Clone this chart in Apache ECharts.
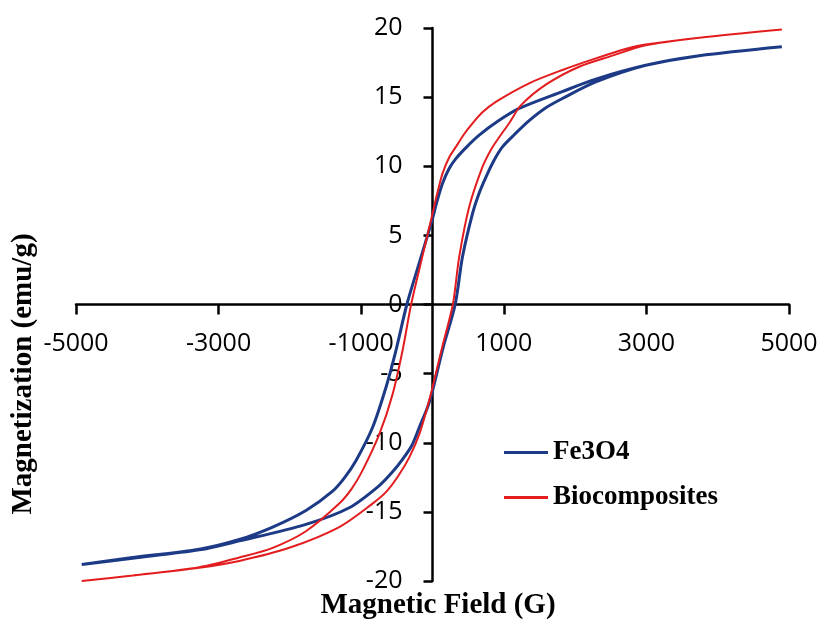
<!DOCTYPE html>
<html>
<head>
<meta charset="utf-8">
<script src="https://cdn.jsdelivr.net/npm/echarts@6/dist/echarts.min.js"></script>
<style>
  html, body { margin: 0; padding: 0; background: #ffffff; }
  #chart { width: 824px; height: 621px; }
</style>
</head>
<body>
<div id="chart"></div>
<script>
// Fe3O4 descending (upper) branch
const fe3o4DownH = [4900, 3740, 2990, 2290, 1820, 1215, 900, 655, 470, 328, 230, 140, 60, 0, -180, -360, -513, -653, -841, -1074, -1230, -1401, -1775, -2242, -2709, -3270, -4205, -4920];
const fe3o4DownM = [18.65, 18.0, 17.3, 16.3, 15.4, 14.18, 13.2, 12.25, 11.35, 10.55, 9.8, 8.75, 7.4, 6.2, 3.1, 0, -3.33, -6.0, -8.9, -11.3, -12.5, -13.5, -14.9, -16.1, -17.0, -17.7, -18.3, -18.8];
// Fe3O4 ascending (lower) branch
const fe3o4UpH = [-4920, -4205, -3270, -2709, -1775, -1168, -747, -560, -420, -290, -186, -60, 0, 150, 318, 420, 561, 650, 748, 860, 981, 1150, 1355, 1580, 1822, 2290, 2990, 3740, 4900];
const fe3o4UpM = [-18.8, -18.35, -17.75, -17.1, -15.9, -14.7, -13.1, -12.1, -11.2, -10.2, -8.9, -7.3, -6.25, -3.1, 0, 3.43, 6.57, 8.0, 9.2, 10.4, 11.4, 12.3, 13.3, 14.2, 14.9, 16.1, 17.3, 18.0, 18.65];
// Biocomposites descending (upper) branch
const bioDownH = [4900, 3740, 2990, 2757, 2290, 1822, 1355, 888, 700, 561, 440, 328, 230, 140, 60, 0, -150, -300, -420, -560, -747, -981, -1130, -1308, -1775, -2242, -2709, -3270, -4205, -4920];
const bioDownM = [19.9, 19.3, 18.8, 18.55, 17.8, 16.96, 16.0, 14.66, 13.9, 13.1, 12.3, 11.4, 10.6, 9.47, 7.9, 6.57, 3.3, 0, -3.33, -6.5, -9.4, -12.0, -13.3, -14.4, -16.4, -17.6, -18.3, -19.0, -19.6, -20.0];
// Biocomposites ascending (lower) branch
const bioUpH = [-4920, -4205, -3270, -2709, -2009, -1308, -841, -640, -467, -320, -186, -60, 0, 140, 285, 374, 514, 701, 820, 935, 1080, 1239, 1589, 2056, 2523, 2990, 3740, 4900];
const bioUpM = [-20.0, -19.6, -19.05, -18.55, -17.6, -16.1, -14.4, -13.5, -12.3, -11.0, -9.4, -7.2, -6.0, -3.0, 0, 3.43, 7.05, 9.95, 11.2, 12.1, 13.15, 14.4, 15.9, 17.2, 18.0, 18.75, 19.3, 19.9];

const seriesNames = ['Fe3O4', 'Biocomposites'];
const xTitle = 'Magnetic Field (G)';
const yTitle = 'Magnetization (emu/g)';

function loop(downH, downM, upH, upM) {
  const pts = [];
  for (let i = 0; i < downH.length; i++) pts.push([downH[i], downM[i]]);
  for (let i = 0; i < upH.length; i++) pts.push([upH[i], upM[i]]);
  return pts;
}

const W = 824, H = 621;
const G = { left: 76, right: 35, top: 28, bottom: 40 };
const gridW = W - G.left - G.right;
const gridH = H - G.top - G.bottom;

const chart = echarts.init(document.getElementById('chart'), null, { renderer: 'canvas' });
const labelFont = { fontFamily: 'Open Sans', fontSize: 25, color: '#000' };
const serif = 'Liberation Serif, Times New Roman, serif';
const BLUE = '#1c3a86', RED = '#e31d1f';

chart.setOption({
  animation: false,
  backgroundColor: '#ffffff',
  grid: Object.assign({ containLabel: false, outerBoundsMode: 'none' }, G),
  xAxis: {
    type: 'value', min: -5000, max: 5000, interval: 2000,
    position: 'bottom', offset: -gridH / 2,
    axisLine: { show: true, onZero: false, lineStyle: { color: '#000', width: 2.5 } },
    axisTick: { show: true, inside: false, length: 10, lineStyle: { color: '#000', width: 2.5 } },
    axisLabel: Object.assign({ margin: 27, formatter: v => String(v) }, labelFont),
    splitLine: { show: false }
  },
  yAxis: {
    type: 'value', min: -20, max: 20, interval: 5,
    position: 'left', offset: -gridW / 2,
    axisLine: { show: true, onZero: false, lineStyle: { color: '#000', width: 2.5 } },
    axisTick: { show: true, inside: false, length: 9, lineStyle: { color: '#000', width: 2.5 } },
    axisLabel: Object.assign({ margin: 30, formatter: v => String(v) }, labelFont),
    splitLine: { show: false }
  },
  legend: {
    orient: 'vertical', left: 499, top: 432,
    itemWidth: 44, itemHeight: 3, itemGap: 14,
    textStyle: { fontFamily: serif, fontWeight: 'bold', fontSize: 27, color: '#000', lineHeight: 31 },
    data: [
      { name: seriesNames[0], icon: 'rect', itemStyle: { color: BLUE } },
      { name: seriesNames[1], icon: 'rect', itemStyle: { color: RED } }
    ]
  },
  graphic: [
    {
      type: 'text', x: 24, y: 374, rotation: Math.PI / 2,
      style: { text: yTitle, fontFamily: serif, fontWeight: 'bold', fontSize: 29, fill: '#000', align: 'center', verticalAlign: 'middle' }
    },
    {
      type: 'text', x: 438, y: 606,
      style: { text: xTitle, fontFamily: serif, fontWeight: 'bold', fontSize: 29, fill: '#000', align: 'center', verticalAlign: 'middle' }
    }
  ],
  series: [
    {
      name: seriesNames[0], type: 'line', showSymbol: false, symbol: 'none', smooth: 0.3,
      lineStyle: { color: BLUE, width: 3 }, itemStyle: { color: BLUE },
      data: loop(fe3o4DownH, fe3o4DownM, fe3o4UpH, fe3o4UpM)
    },
    {
      name: seriesNames[1], type: 'line', showSymbol: false, symbol: 'none', smooth: 0.3,
      lineStyle: { color: RED, width: 2 }, itemStyle: { color: RED },
      data: loop(bioDownH, bioDownM, bioUpH, bioUpM)
    }
  ]
});
</script>
</body>
</html>
